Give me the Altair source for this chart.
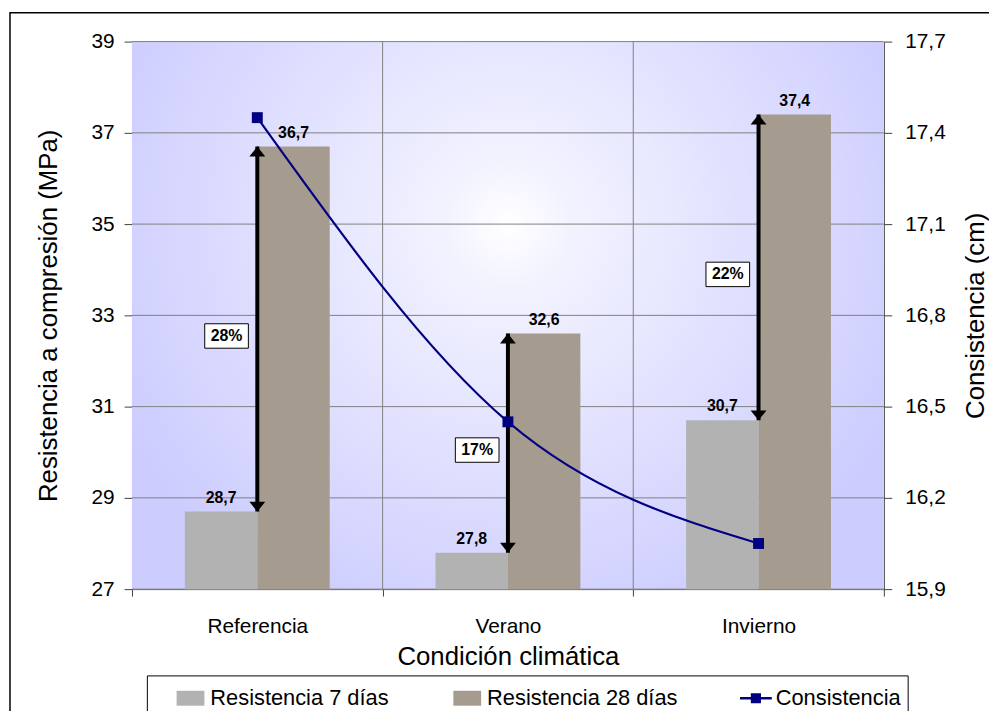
import altair as alt
import pandas as pd

# ---------------- data ----------------
categorias = ["Referencia", "Verano", "Invierno"]
res_7 = [28.7, 27.8, 30.7]
res_28 = [36.7, 32.6, 37.4]
consistencia = [17.45, 16.45, 16.05]
incremento = ["28%", "17%", "22%"]
series = ["Resistencia 7 días", "Resistencia 28 días", "Consistencia"]
colores = ["#b2b2b2", "#a69b8f", "#000080"]
left_ticks = [27, 29, 31, 33, 35, 37, 39]
right_ticks = [15.9, 16.2, 16.5, 16.8, 17.1, 17.4, 17.7]

W, H = 758, 552
FONT = "Liberation Sans"
TICK_FS = 21
TITLE_FS = 26

bars_df = pd.DataFrame({
    "cat": categorias * 2,
    "serie": [series[0]] * 3 + [series[1]] * 3,
    "valor": res_7 + res_28,
})
arrow_df = pd.DataFrame({"cat": categorias, "r7": res_7, "r28": res_28, "pct": incremento})
line_df = pd.DataFrame({"cat": categorias, "cons": consistencia})
legend_df = pd.DataFrame({"serie": series})
hgrid_df = pd.DataFrame({"valor": left_ticks})
vgrid_df = pd.DataFrame({"cat": categorias[1:]})

xscale = alt.Scale(domain=categorias, paddingInner=0, paddingOuter=0)
yscale = alt.Scale(domain=[27, 39], nice=False, zero=False)
y2scale = alt.Scale(domain=[15.9, 17.7], nice=False, zero=False)
color_scale = alt.Scale(domain=series, range=colores)
shape_scale = alt.Scale(domain=series, range=[
    "M-0.875,-0.47H0.875V0.47H-0.875Z", "M-0.875,-0.47H0.875V0.47H-0.875Z",
    "M-1,-0.08H1V0.08H-1Z M-0.32,-0.32H0.32V0.32H-0.32Z"])
xoff_scale = alt.Scale(domain=series[:2], paddingInner=0, paddingOuter=0.73)

x_axis = alt.Axis(title="Condición climática", labelAngle=0, tickBand="extent",
                  labelFontSize=TICK_FS, labelFont=FONT, labelColor="black",
                  titleFontSize=TITLE_FS, titleFont=FONT, titleFontWeight="normal",
                  titleColor="black", labelPadding=20, titlePadding=7,
                  domainColor="#404040", tickColor="#404040", tickSize=7, grid=False)
y_axis = alt.Axis(title="Resistencia a compresión (MPa)", values=left_ticks,
                  labelFontSize=TICK_FS, labelFont=FONT, labelColor="black",
                  titleFontSize=TITLE_FS, titleFont=FONT, titleFontWeight="normal",
                  titleColor="black", labelPadding=10, titlePadding=30,
                  domainColor="#404040", tickColor="#404040", tickSize=8, grid=False)
y2_axis = alt.Axis(title="Consistencia (cm)", orient="right", values=right_ticks,
                   labelExpr="replace(format(datum.value, '.1f'), '.', ',')",
                   labelFontSize=TICK_FS, labelFont=FONT, labelColor="black",
                   titleFontSize=TITLE_FS, titleFont=FONT, titleFontWeight="normal",
                   titleColor="black", titleAngle=270, labelPadding=13, titlePadding=44,
                   domainColor="#404040", tickColor="#404040", tickSize=8, grid=False)
legend = alt.Legend(
    title=None, orient="none", legendX=15, legendY=639, direction="horizontal",
    strokeColor="black", fillColor="white", padding=7, columnPadding=42,
    labelFontSize=22, labelFont=FONT, labelColor="black", symbolSize=1024,
    symbolStrokeWidth=0, symbolOffset=21, labelOffset=4, labelLimit=400,
)


def X(**kw):
    return alt.X("cat:N", sort=categorias, scale=xscale, axis=x_axis, **kw)


def Y(field):
    return alt.Y(field, scale=yscale, axis=y_axis)


def XOFF():
    return alt.XOffset("serie:N", sort=series[:2], scale=xoff_scale)


# ---------------- layers ----------------
frame = alt.Chart(alt.Data(values=[{}])).mark_rect(
    fillOpacity=0, stroke="black", strokeWidth=1.5
).encode(x=alt.value(-123), x2=alt.value(1200), y=alt.value(-29), y2=alt.value(1200))

bg = alt.Chart(alt.Data(values=[{}])).mark_rect(
    fill=alt.Gradient(
        gradient="radial",
        stops=[alt.GradientStop(color="#ffffff", offset=0),
               alt.GradientStop(color="#f2f2ff", offset=0.15),
               alt.GradientStop(color="#ccccff", offset=1)],
        x1=0.5, y1=0.38, x2=0.5, y2=0.38, r1=0, r2=0.58,
    )
).encode(x=alt.value(0), x2=alt.value(W), y=alt.value(0), y2=alt.value(H))

hgrid = alt.Chart(hgrid_df).mark_rule(color="#808080", strokeWidth=1).encode(
    y=Y("valor:Q")
)
vgrid = alt.Chart(vgrid_df).mark_rule(color="#808080", strokeWidth=1).encode(
    x=X(bandPosition=0)
)

bars = alt.Chart(bars_df).mark_bar(size=73).encode(
    x=X(),
    xOffset=XOFF(),
    y=Y("valor:Q"),
    y2=alt.datum(27),
    color=alt.Color("serie:N", scale=color_scale, sort=series, legend=legend),
)

val_labels = alt.Chart(bars_df).mark_text(
    dy=-14, fontSize=16, fontWeight="bold", font=FONT, color="black"
).transform_calculate(
    lab="replace(format(datum.valor, '.1f'), '.', ',')"
).encode(
    x=X(),
    xOffset=XOFF(),
    y=Y("valor:Q"),
    text="lab:N",
)

arrow_rule = alt.Chart(arrow_df).mark_rule(color="black", strokeWidth=4).encode(
    x=X(),
    y=Y("r7:Q"),
    y2="r28:Q",
)
arrow_top = alt.Chart(arrow_df).mark_point(
    shape="M0,0L1,1.25L-1,1.25Z", filled=True, color="black", size=256, opacity=1
).encode(x=X(), y=Y("r28:Q"))
arrow_bot = alt.Chart(arrow_df).mark_point(
    shape="M0,0L1,-1.25L-1,-1.25Z", filled=True, color="black", size=256, opacity=1
).encode(x=X(), y=Y("r7:Q"))

pct_base = alt.Chart(arrow_df).transform_calculate(mid="(datum.r7 + datum.r28) / 2")
pct_box = pct_base.mark_point(
    shape="M-1,-0.56H1V0.56H-1Z", filled=True, fill="white", stroke="black",
    strokeWidth=1, size=1936, opacity=1, xOffset=-31, yOffset=7
).encode(x=X(), y=Y("mid:Q"))
pct_text = pct_base.mark_text(
    dx=-31, dy=7, fontSize=16, fontWeight="bold", font=FONT, color="black"
).encode(x=X(), y=Y("mid:Q"), text="pct:N")

legend_layer = alt.Chart(legend_df).mark_point(filled=True, opacity=1).encode(
    x=alt.value(-2000), y=alt.value(-2000),
    color=alt.Color("serie:N", scale=color_scale, sort=series, legend=legend),
    shape=alt.Shape("serie:N", sort=series, scale=shape_scale, legend=legend),
)

left = alt.layer(bg, hgrid, vgrid, bars, val_labels, arrow_rule, arrow_top, arrow_bot,
                 pct_box, pct_text, legend_layer)

cons_line = alt.Chart(line_df).mark_line(color="#000080", strokeWidth=2.2, interpolate="monotone").encode(
    x=X(),
    y=alt.Y("cons:Q", scale=y2scale, axis=y2_axis),
)
cons_pts = alt.Chart(line_df).mark_point(shape="square", filled=True, size=121, color="#000080", opacity=1).encode(
    x=X(),
    y=alt.Y("cons:Q", scale=y2scale, axis=y2_axis),
)
right = alt.layer(cons_line, cons_pts)

chart = alt.layer(left, right, frame).resolve_scale(y="independent").properties(
    width=W, height=H,
    autosize=alt.AutoSizeParams(type="none"),
    padding={"left": 125, "top": 31, "right": 106, "bottom": 120},
    background="white",
).configure_view(strokeWidth=0)

chart.save("out.html", embed_options={"renderer": "svg", "actions": False})
